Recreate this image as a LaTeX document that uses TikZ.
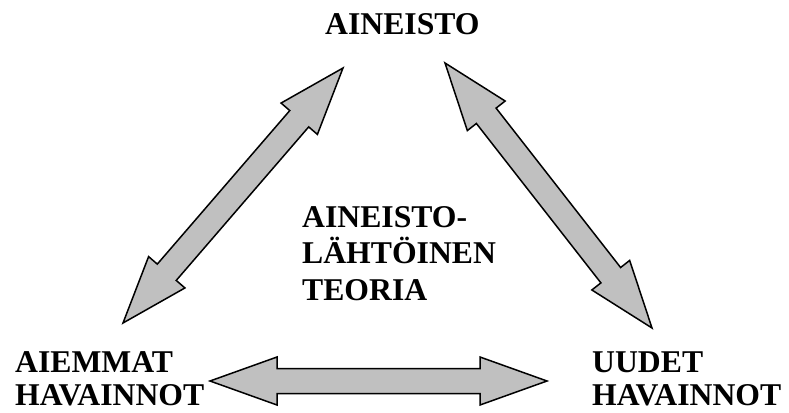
\documentclass[tikz,border=0pt]{standalone}
\usepackage{fontspec}
\setmainfont{Liberation Serif}
\usetikzlibrary{calc}
\definecolor{arrgray}{RGB}{192,192,192}
\tikzset{
  lbl/.style={inner sep=0pt, anchor=base west, align=left,
    font=\bfseries\fontsize{31.7}{33}\selectfont},
  lblwide/.style={lbl, font=\bfseries\fontsize{31.7}{36.5}\selectfont},
  arrbody/.style={draw=black, fill=arrgray, line width=1.5pt, line join=miter}
}
\newcommand\dblarr[2]{%
  \coordinate (#1h) at ($(#1)!67pt!(#2)$);
  \coordinate (#2h) at ($(#2)!67pt!(#1)$);
  \draw[arrbody] (#1)
    -- ($(#1h)!24pt!90:(#2)$) -- ($(#1h)!12.5pt!90:(#2)$)
    -- ($(#2h)!12.5pt!-90:(#1)$) -- ($(#2h)!24pt!-90:(#1)$)
    -- (#2)
    -- ($(#2h)!24pt!90:(#1)$) -- ($(#2h)!12.5pt!90:(#1)$)
    -- ($(#1h)!12.5pt!-90:(#2)$) -- ($(#1h)!24pt!-90:(#2)$)
    -- cycle;
}
\begin{document}
\begin{tikzpicture}[x=1pt,y=-1pt]
\useasboundingbox (0,0) rectangle (789,412);
\node[lbl] (top) at (325,35) {AINEISTO};
\node[lblwide] (mid) at (302,300) {AINEISTO-\\LÄHTÖINEN\\TEORIA};
\node[lbl] (left) at (15,405) {AIEMMAT\\HAVAINNOT};
\node[lbl] (right) at (592,405) {UUDET\\HAVAINNOT};
\coordinate (la) at (343,68);
\coordinate (lb) at (123,323);
\coordinate (ra) at (445,63);
\coordinate (rb) at (652,328);
\coordinate (ba) at (210,381);
\coordinate (bb) at (547,381);
\dblarr{la}{lb}
\dblarr{ra}{rb}
\dblarr{ba}{bb}
\end{tikzpicture}
\end{document}
